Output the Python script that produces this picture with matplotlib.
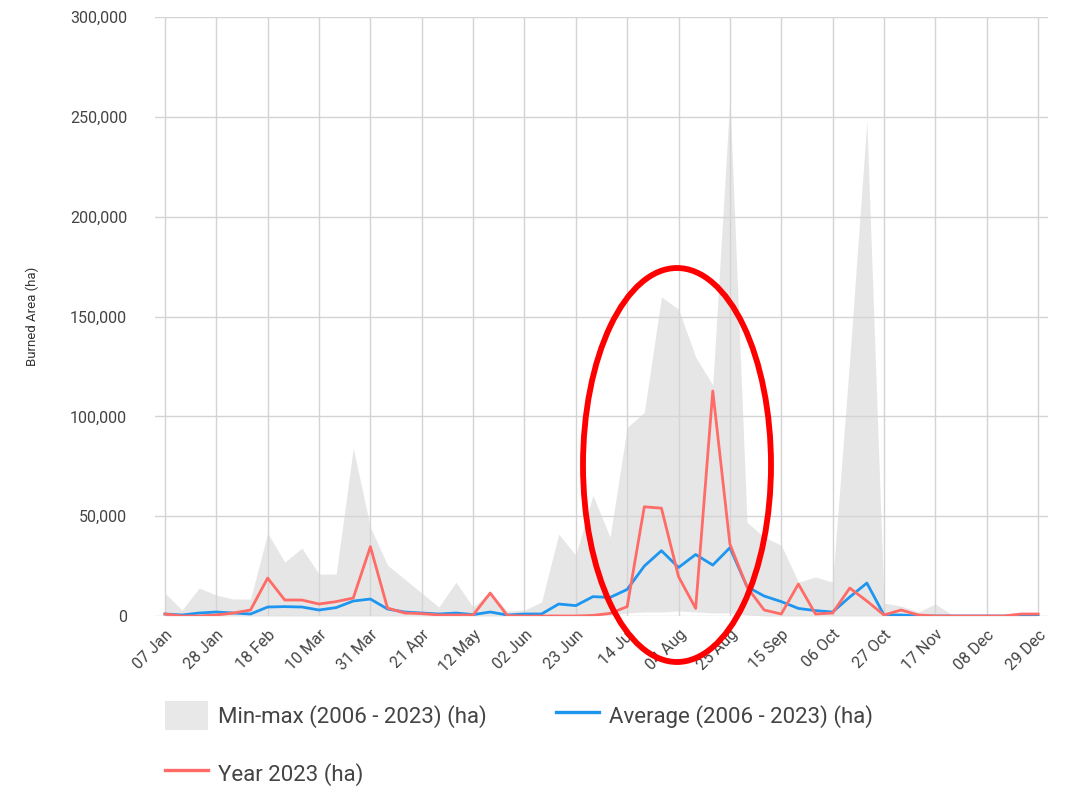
import matplotlib
matplotlib.use("Agg")
import matplotlib.pyplot as plt
from matplotlib.patches import Ellipse, Patch
from matplotlib.lines import Line2D
from matplotlib.ticker import FuncFormatter

plt.rcParams['font.family'] = ['Roboto', 'DejaVu Sans']

# weekly burned area (ha), 52 weeks
max_ha = [11500, 3000, 14000, 10500, 8500, 8500, 41500, 27000, 34000, 21000,
          21000, 84000, 44500, 25500, 18500, 11500, 4500, 17000, 4500, 12000,
          2500, 3000, 7000, 41000, 30500, 60500, 39500, 94500, 102000, 159800,
          153700, 129700, 115700, 259400, 47000, 39500, 35500, 17000, 19500, 17000,
          129000, 248000, 6500, 5000, 2000, 6000, 500, 500, 800, 500, 1000, 1500]
min_ha = [0, 0, 0, 0, 0, 0, 0, 0, 0, 0,
          0, 0, 0, 0, 0, 0, 0, 0, 0, 0,
          0, 0, 0, 0, 0, 0, 500, 1500, 2000, 2000,
          2500, 2000, 1500, 1500, 500, 0, 0, 0, 0, 0,
          0, 0, 0, 0, 0, 0, 0, 0, 0, 0, 0, 0]
avg_ha = [1000, 500, 1500, 2000, 1500, 1000, 4500, 4700, 4500, 3000,
          4200, 7500, 8500, 3500, 2000, 1500, 1000, 1500, 700, 2000,
          500, 1000, 1000, 6000, 5200, 9700, 9300, 13300, 25000, 32700,
          24300, 30800, 25500, 34200, 14700, 10000, 7200, 3800, 2700, 2000,
          9500, 16500, 500, 500, 0, 0, 0, 0, 0, 0, 0, 0]
y2023_ha = [1000, 0, 0, 500, 1500, 3000, 19000, 8000, 8000, 6000,
            7200, 9000, 34700, 4000, 1500, 1200, 500, 500, 500, 11500,
            200, 0, 0, 0, 0, 300, 1300, 4700, 54700, 54000,
            19700, 3800, 112700, 36000, 14500, 3000, 1000, 16000, 1000, 1500,
            14000, 7500, 500, 3000, 500, 0, 0, 0, 0, 0, 1000, 1000]
tick_labels = ['07 Jan', '28 Jan', '18 Feb', '10 Mar', '31 Mar', '21 Apr',
               '12 May', '02 Jun', '23 Jun', '14 Jul', '04 Aug', '25 Aug',
               '15 Sep', '06 Oct', '27 Oct', '17 Nov', '08 Dec', '29 Dec']

weeks = list(range(len(max_ha)))

fig = plt.figure(figsize=(10.76, 7.87), dpi=100)
ax = fig.add_axes([155 / 1076, 1 - 616 / 787, 893 / 1076, 599 / 787])

ax.fill_between(weeks, min_ha, max_ha, color='#cfcfcf', alpha=0.5, linewidth=0)
ax.plot(weeks, avg_ha, color='#1e96f0', linewidth=2.0)
ax.plot(weeks, y2023_ha, color='#ff6b66', linewidth=2.0)

ax.set_xlim(-0.58, 51.58)
ax.set_ylim(0, 300000)
ax.set_xticks(weeks[::3])
ax.set_xticklabels(tick_labels, rotation=45, ha='right', rotation_mode='anchor')
ax.set_yticks(range(0, 300001, 50000))
ax.yaxis.set_major_formatter(FuncFormatter(lambda v, p: f'{int(v):,}'))
ax.tick_params(axis='x', length=0, pad=8, labelsize=11.5, labelcolor='#444444')
ax.tick_params(axis='y', length=0, pad=20, labelsize=11.5, labelcolor='#444444')
ax.grid(True, color='#d4d4d4', linewidth=1.0)
for s in ax.spines.values():
    s.set_visible(False)
ax.set_ylabel('Burned Area (ha)', fontsize=9.5, color='#333333', labelpad=22)

# column-wise fill: col 1 = min-max, year 2023; col 2 = average
handles = [Patch(facecolor='#e8e8e8', edgecolor='none'),
           Line2D([], [], color='#ff6b66', linewidth=2.4),
           Line2D([], [], color='#1e96f0', linewidth=2.4)]
labels = ['Min-max (2006 - 2023) (ha)', 'Year 2023 (ha)', 'Average (2006 - 2023) (ha)']
leg = fig.legend(handles, labels, loc='upper left', ncol=2,
                 bbox_to_anchor=(145 / 1076, 1 - 681 / 787),
                 frameon=False, fontsize=16, handlelength=1.95, handleheight=1.65,
                 handletextpad=0.45, labelspacing=1.3, columnspacing=3.1,
                 labelcolor='#444444')

# highlight ellipse around the Jul-Aug peaks
ell = Ellipse((677 / 1076, 1 - 465 / 787), 188 / 1076, 394 / 787,
              transform=fig.transFigure, fill=False, edgecolor='#ff0000',
              linewidth=4.2, clip_on=False)
fig.add_artist(ell)

fig.savefig('out.png', dpi=100)
